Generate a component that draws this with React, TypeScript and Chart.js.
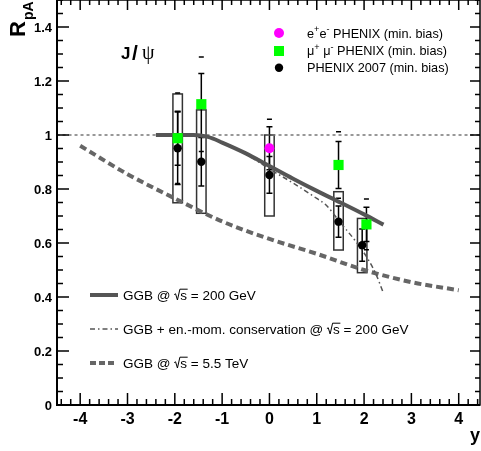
import React, { useEffect, useRef } from 'react';
import { Chart, registerables } from 'chart.js';
Chart.register(...registerables);

const FONT = "'Liberation Sans', Arial, Helvetica, sans-serif";

// axis ticks
const xTicks = [-4, -3, -2, -1, 0, 1, 2, 3, 4];
const xTickLabels = ['-4', '-3', '-2', '-1', '0', '1', '2', '3', '4'];
const yTicks = [0, 0.2, 0.4, 0.6, 0.8, 1, 1.2, 1.4];
const yTickLabels = ['0', '0.2', '0.4', '0.6', '0.8', '1', '1.2', '1.4'];

// PHENIX 2007 (min. bias) - black
const phenixY = [-1.94, -1.44, 0.0, 1.46, 1.96];
const phenixR = [0.951, 0.901, 0.852, 0.679, 0.592];
const phenixStat = [0.134, 0.09, 0.068, 0.058, 0.06];
const phenixSysLo = [0.749, 0.71, 0.7, 0.574, 0.49];
const phenixSysHi = [1.152, 1.093, 1.0, 0.79, 0.691];

// mu+ mu- PHENIX (min. bias) - green
const mumuY = [-1.94, -1.44, 1.46, 2.05];
const mumuR = [0.988, 1.114, 0.889, 0.669];
const mumuStat = [0.1, 0.114, 0.087, 0.063];
const mumuSys = [0.168, 0.175, 0.123, 0.094];

// e+ e- PHENIX (min. bias) - magenta
const eeY = [0.0];
const eeR = [0.951];
const eeStat = [0.08];
const eeSys = [0.107];

// GGB @ sqrt(s) = 200 GeV
const ggb200Y = [-2.4, -1.6, -1.3, -1.0, -0.5, 0, 0.5, 1.0, 1.5, 2.0, 2.41];
const ggb200R = [1.0, 1.0, 0.993, 0.972, 0.932, 0.885, 0.838, 0.793, 0.75, 0.706, 0.668];

// GGB + en.-mom. conservation @ sqrt(s) = 200 GeV
const ggbEmcY = [-2.4, -1.6, -1.3, -1.0, -0.5, 0, 0.5, 1.0, 1.2, 1.5, 1.85, 2.1, 2.25, 2.41];
const ggbEmcR = [1.0, 1.0, 0.993, 0.972, 0.93, 0.874, 0.822, 0.765, 0.74, 0.675, 0.6, 0.535, 0.485, 0.414];

// GGB @ sqrt(s) = 5.5 TeV
const ggbLhcY = [-4, -3, -2, -1, 0, 1, 2, 3, 4];
const ggbLhcR = [0.96, 0.855, 0.765, 0.68, 0.615, 0.56, 0.5, 0.455, 0.425];

// reference line
const unityY = [-4.5, 4.5];
const unityR = [1, 1];

const pts = (xs: number[], ys: number[]) => xs.map((x, i) => ({ x, y: ys[i] }));

type Seg = { t: string; sup?: boolean; sqrt?: boolean };

function drawRich(ctx: CanvasRenderingContext2D, segs: Seg[], x: number, y: number, size: number) {
  let cx = x;
  ctx.textAlign = 'left';
  ctx.textBaseline = 'alphabetic';
  for (const s of segs) {
    if (s.sup) {
      ctx.font = `${size * 0.72}px ${FONT}`;
      ctx.fillText(s.t, cx, y - size * 0.42);
      cx += ctx.measureText(s.t).width;
    } else if (s.sqrt) {
      ctx.font = `${size}px ${FONT}`;
      const sw = ctx.measureText(s.t).width;
      const top = y - size * 0.8;
      ctx.beginPath();
      ctx.lineWidth = 1;
      ctx.moveTo(cx, y - size * 0.4);
      ctx.lineTo(cx + size * 0.1, y - size * 0.46);
      ctx.lineTo(cx + size * 0.24, y);
      ctx.lineTo(cx + size * 0.42, top);
      ctx.lineTo(cx + size * 0.46 + sw + 0.5, top);
      ctx.stroke();
      ctx.fillText(s.t, cx + size * 0.45, y);
      cx += size * 0.45 + sw;
    } else {
      ctx.font = `${size}px ${FONT}`;
      ctx.fillText(s.t, cx, y);
      cx += ctx.measureText(s.t).width;
    }
  }
}

const decorPlugin = {
  id: 'decor',
  beforeDatasetsDraw(chart: any) {
    const ctx: CanvasRenderingContext2D = chart.ctx;
    const xs = chart.scales.x;
    const ys = chart.scales.y;
    const boxHalf = 0.1;
    ctx.save();
    // systematic boxes
    ctx.strokeStyle = '#333';
    ctx.lineWidth = 1.5;
    phenixY.forEach((y, i) => {
      const x0 = xs.getPixelForValue(y - boxHalf);
      const x1 = xs.getPixelForValue(y + boxHalf);
      const yt = ys.getPixelForValue(phenixSysHi[i]);
      const yb = ys.getPixelForValue(phenixSysLo[i]);
      ctx.strokeRect(x0, yt, x1 - x0, yb - yt);
    });
    ctx.strokeStyle = '#000';
    const err = (x: number, y: number, e: number) => {
      const px = xs.getPixelForValue(x);
      const yt = ys.getPixelForValue(y + e);
      const yb = ys.getPixelForValue(y - e);
      ctx.lineWidth = 1.5;
      ctx.beginPath();
      ctx.moveTo(px, yt);
      ctx.lineTo(px, yb);
      ctx.moveTo(px - 3, yt);
      ctx.lineTo(px + 3, yt);
      ctx.moveTo(px - 3, yb);
      ctx.lineTo(px + 3, yb);
      ctx.stroke();
    };
    const dash = (x: number, y: number, e: number) => {
      const px = xs.getPixelForValue(x);
      ctx.lineWidth = 1.5;
      ctx.beginPath();
      for (const v of [y + e, y - e]) {
        const py = ys.getPixelForValue(v);
        ctx.moveTo(px - 2.5, py);
        ctx.lineTo(px + 2.5, py);
      }
      ctx.stroke();
    };
    phenixY.forEach((y, i) => err(y, phenixR[i], phenixStat[i]));
    mumuY.forEach((y, i) => {
      err(y, mumuR[i], mumuStat[i]);
      dash(y, mumuR[i], mumuSys[i]);
    });
    eeY.forEach((y, i) => {
      err(y, eeR[i], eeStat[i]);
      dash(y, eeR[i], eeSys[i]);
    });
    ctx.restore();
  },
  afterDraw(chart: any) {
    const ctx: CanvasRenderingContext2D = chart.ctx;
    const xs = chart.scales.x;
    const ys = chart.scales.y;
    const { left, right, top, bottom } = chart.chartArea;
    ctx.save();
    ctx.strokeStyle = '#000';
    ctx.fillStyle = '#000';
    // frame
    ctx.lineWidth = 1.5;
    ctx.strokeRect(left, top, right - left, bottom - top);
    ctx.lineWidth = 2;
    ctx.beginPath();
    ctx.moveTo(left, top);
    ctx.lineTo(left, bottom);
    ctx.lineTo(right, bottom);
    ctx.stroke();
    // ticks
    ctx.lineWidth = 1.5;
    ctx.beginPath();
    for (let k = 0; k <= 30; k++) {
      const v = k * 0.05;
      const major = k % 4 === 0;
      const py = ys.getPixelForValue(v);
      const l = major ? 12 : 6;
      const r = major ? 10 : 5;
      ctx.moveTo(left, py);
      ctx.lineTo(left + l, py);
      ctx.moveTo(right, py);
      ctx.lineTo(right - r, py);
    }
    for (let k = -22; k <= 22; k++) {
      const v = k * 0.2;
      const major = k % 5 === 0;
      const px = xs.getPixelForValue(v);
      const l = major ? 12 : 6;
      const t = major ? 10 : 5;
      ctx.moveTo(px, bottom);
      ctx.lineTo(px, bottom - l);
      ctx.moveTo(px, top);
      ctx.lineTo(px, top + t);
    }
    ctx.stroke();

    // tick labels
    ctx.textBaseline = 'alphabetic';
    ctx.font = `bold 16px ${FONT}`;
    ctx.textAlign = 'center';
    xTicks.forEach((v, i) => ctx.fillText(xTickLabels[i], xs.getPixelForValue(v), bottom + 18.5));
    ctx.font = `bold 13px ${FONT}`;
    ctx.textAlign = 'right';
    yTicks.forEach((v, i) => ctx.fillText(yTickLabels[i], left - 5, ys.getPixelForValue(v) + 4.6));

    // axis titles
    ctx.save();
    ctx.translate(25, 37);
    ctx.rotate(-Math.PI / 2);
    ctx.textAlign = 'left';
    ctx.textBaseline = 'alphabetic';
    ctx.font = `bold 22px ${FONT}`;
    ctx.fillText('R', 0, 0);
    const rw = ctx.measureText('R').width;
    ctx.font = `bold 14px ${FONT}`;
    ctx.fillText('pA', rw + 1, 8);
    ctx.restore();

    ctx.font = `bold 18px ${FONT}`;
    ctx.textAlign = 'right';
    ctx.textBaseline = 'alphabetic';
    ctx.fillText('y', 480, 441);

    // J/psi label
    ctx.textAlign = 'left';
    ctx.font = `bold 17px ${FONT}`;
    ctx.fillText('J', 121, 58.5);
    ctx.font = `bold 21px ${FONT}`;
    ctx.fillText('/', 132, 59.5);
    ctx.font = `20px 'Liberation Serif', 'DejaVu Serif', serif`;
    ctx.fillText('ψ', 142, 58.5);

    // top-right legend
    const lx = 279;
    ctx.fillStyle = '#ff00ff';
    ctx.beginPath();
    ctx.arc(lx, 33, 5, 0, Math.PI * 2);
    ctx.fill();
    ctx.fillStyle = '#00ff00';
    ctx.fillRect(lx - 5, 51 - 5, 10, 10);
    ctx.fillStyle = '#000';
    ctx.beginPath();
    ctx.arc(lx, 67.7, 4.2, 0, Math.PI * 2);
    ctx.fill();
    const ls = 12.7;
    drawRich(ctx, [{ t: 'e' }, { t: '+', sup: true }, { t: 'e' }, { t: '-', sup: true }, { t: ' PHENIX (min. bias)' }], 307, 37.5, ls);
    drawRich(ctx, [{ t: 'μ' }, { t: '+', sup: true }, { t: ' μ' }, { t: '-', sup: true }, { t: ' PHENIX (min. bias)' }], 307, 55.2, ls);
    drawRich(ctx, [{ t: 'PHENIX 2007 (min. bias)' }], 307, 72.2, ls);

    // bottom-left legend
    const bs = 13.5;
    ctx.strokeStyle = '#555';
    ctx.lineWidth = 4;
    ctx.beginPath();
    ctx.moveTo(90, 295);
    ctx.lineTo(118, 295);
    ctx.stroke();
    ctx.lineWidth = 1.5;
    ctx.setLineDash([5, 3, 1.5, 3]);
    ctx.beginPath();
    ctx.moveTo(90, 329);
    ctx.lineTo(118, 329);
    ctx.stroke();
    ctx.strokeStyle = '#666';
    ctx.lineWidth = 4;
    ctx.setLineDash([6, 3]);
    ctx.beginPath();
    ctx.moveTo(90, 363);
    ctx.lineTo(114, 363);
    ctx.stroke();
    ctx.setLineDash([]);
    ctx.strokeStyle = '#000';
    ctx.fillStyle = '#000';
    drawRich(ctx, [{ t: 'GGB @ ' }, { t: 's', sqrt: true }, { t: ' = 200 GeV' }], 123, 300, bs);
    drawRich(ctx, [{ t: 'GGB + en.-mom. conservation @ ' }, { t: 's', sqrt: true }, { t: ' = 200 GeV' }], 123, 334, bs);
    drawRich(ctx, [{ t: 'GGB @ ' }, { t: 's', sqrt: true }, { t: ' = 5.5 TeV' }], 123, 368, bs);
    ctx.restore();
  },
};

export default function App() {
  const ref = useRef<HTMLCanvasElement>(null);
  useEffect(() => {
    if (!ref.current) return;
    const chart = new Chart(ref.current, {
      type: 'line',
      data: {
        datasets: [
          {
            label: 'PHENIX 2007 (min. bias)',
            data: pts(phenixY, phenixR),
            showLine: false,
            pointRadius: 4.2,
            pointBackgroundColor: '#000',
            pointBorderColor: '#000',
            pointBorderWidth: 0,
            order: 0,
          },
          {
            label: 'e+e- PHENIX (min. bias)',
            data: pts(eeY, eeR),
            showLine: false,
            pointRadius: 5,
            pointBackgroundColor: '#ff00ff',
            pointBorderColor: '#ff00ff',
            pointBorderWidth: 0,
            order: 1,
          },
          {
            label: 'mu+mu- PHENIX (min. bias)',
            data: pts(mumuY, mumuR),
            showLine: false,
            pointStyle: 'rect',
            pointRadius: 7.2,
            pointBackgroundColor: '#00ff00',
            pointBorderColor: '#00ff00',
            pointBorderWidth: 0,
            order: 1,
          },
          {
            label: 'GGB 200 GeV',
            data: pts(ggb200Y, ggb200R),
            borderColor: '#555',
            borderWidth: 4,
            pointRadius: 0,
            cubicInterpolationMode: 'monotone',
            order: 10,
          },
          {
            label: 'GGB + en.-mom. cons. 200 GeV',
            data: pts(ggbEmcY, ggbEmcR),
            borderColor: '#555',
            borderWidth: 1.5,
            borderDash: [5, 3, 1.5, 3],
            pointRadius: 0,
            cubicInterpolationMode: 'monotone',
            order: 11,
          },
          {
            label: 'GGB 5.5 TeV',
            data: pts(ggbLhcY, ggbLhcR),
            borderColor: '#666',
            borderWidth: 4,
            borderDash: [7, 4],
            pointRadius: 0,
            cubicInterpolationMode: 'monotone',
            order: 12,
          },
          {
            label: 'unity',
            data: pts(unityY, unityR),
            borderColor: '#777',
            borderWidth: 1.5,
            borderDash: [3, 3],
            pointRadius: 0,
            order: 20,
          },
        ],
      },
      options: {
        responsive: false,
        animation: false,
        events: [],
        layout: { autoPadding: false, padding: { left: 0, right: 1, top: 0, bottom: 0 } },
        plugins: { legend: { display: false }, tooltip: { enabled: false } },
        scales: {
          x: {
            type: 'linear',
            min: -4.49,
            max: 4.45,
            grid: { display: false, drawTicks: false },
            border: { display: false },
            ticks: { display: false },
            afterFit: (s: any) => {
              s.height = 46;
            },
          },
          y: {
            type: 'linear',
            min: 0,
            max: 1.5,
            grid: { display: false, drawTicks: false },
            border: { display: false },
            ticks: { display: false },
            afterFit: (s: any) => {
              s.width = 57;
            },
          },
        },
      },
      plugins: [decorPlugin],
    } as any);
    return () => chart.destroy();
  }, []);
  return (
    <div style={{ position: 'absolute', left: 0, top: 0, width: 481, height: 451, background: '#fff' }}>
      <canvas ref={ref} width={481} height={451} style={{ display: 'block' }} />
    </div>
  );
}
